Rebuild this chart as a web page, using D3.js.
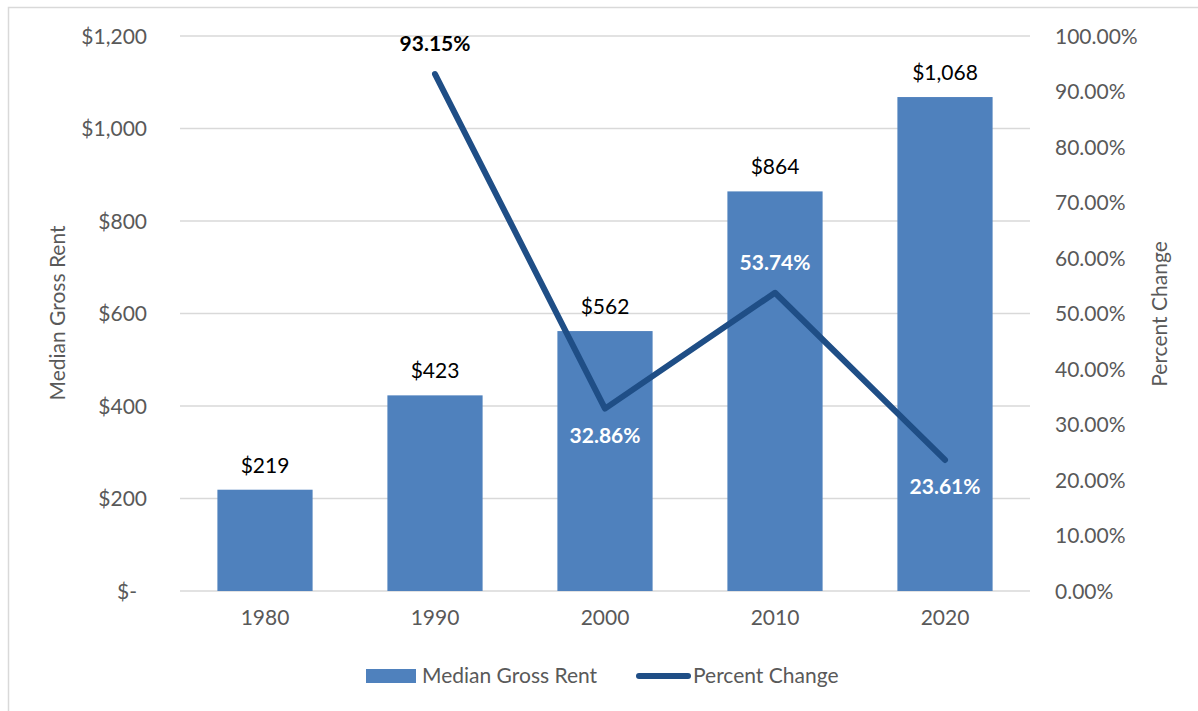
<!DOCTYPE html>
<html><head><meta charset="utf-8">
<script src="https://cdn.jsdelivr.net/npm/d3@7"></script>
<style>body{margin:0;background:#fff;} text{font-family:Lato,"Open Sans",sans-serif;}</style>
</head><body>
<svg id="chart" width="1198" height="711"></svg>
<script>
const years = ["1980","1990","2000","2010","2020"];
const rent = [219, 423, 562, 864, 1068];
const pctYears = ["1990","2000","2010","2020"];
const pctChange = [93.15, 32.86, 53.74, 23.61];
const pctLabelPos = ["above","below","above","below"];
const leftTicks = [0,200,400,600,800,1000,1200];
const rightTicks = [0,10,20,30,40,50,60,70,80,90,100];

const FS = 21;
const svg = d3.select("#chart");
svg.append("rect").attr("x",8.5).attr("y",7.5).attr("width",1200).attr("height",720)
  .attr("fill","#fff").attr("stroke","#d9d9d9").attr("stroke-width",1.5);

const L=180, R=1030, T=36, B=591;
const x = d3.scaleBand().domain(years).range([L,R]).paddingInner(0.44).paddingOuter(0.22);
const y = d3.scaleLinear().domain([0,1200]).range([B,T]);
const y2 = d3.scaleLinear().domain([0,100]).range([B,T]);
const grey="#595959";

// gridlines
svg.append("g").selectAll("line").data(leftTicks).join("line")
  .attr("x1",L).attr("x2",R).attr("y1",d=>y(d)).attr("y2",d=>y(d))
  .attr("stroke","#d9d9d9").attr("stroke-width",1.3);

// left axis
const fmtL = d => d===0 ? "$-" : "$"+d3.format(",")(d);
const gl = svg.append("g").attr("transform",`translate(${L-30},0)`)
  .call(d3.axisLeft(y).tickValues(leftTicks).tickFormat(fmtL).tickSize(0));
gl.select(".domain").remove();
gl.selectAll("text").attr("fill",grey).attr("font-size",FS).attr("dx",d=>d===0?-10:0).attr("dy","0.35em");

// right axis
const gr = svg.append("g").attr("transform",`translate(${R+22},0)`)
  .call(d3.axisRight(y2).tickValues(rightTicks).tickFormat(d=>d.toFixed(2)+"%").tickSize(0));
gr.select(".domain").remove();
gr.selectAll("text").attr("fill",grey).attr("font-size",FS).attr("dx",0).attr("dy","0.35em");

// bottom axis
const gb = svg.append("g").attr("transform",`translate(0,${B+14})`)
  .call(d3.axisBottom(x).tickSize(0));
gb.select(".domain").remove();
gb.selectAll("text").attr("fill",grey).attr("font-size",FS).attr("dy","0.8em");

// bars
svg.append("g").selectAll("rect").data(rent).join("rect")
  .attr("x",(d,i)=>x(years[i])).attr("width",x.bandwidth())
  .attr("y",d=>y(d)).attr("height",d=>B-y(d)).attr("fill","#4f81bd");
svg.append("g").selectAll("text").data(rent).join("text")
  .attr("x",(d,i)=>x(years[i])+x.bandwidth()/2).attr("y",d=>y(d)-17)
  .attr("text-anchor","middle").attr("font-size",FS).attr("fill","#000")
  .text(d=>"$"+d3.format(",")(d));

// line
const cx = yr => x(yr)+x.bandwidth()/2;
const line = d3.line().x((d,i)=>cx(pctYears[i])).y(d=>y2(d));
svg.append("path").datum(pctChange).attr("d",line).attr("fill","none")
  .attr("stroke","#1f4e86").attr("stroke-width",6).attr("stroke-linejoin","round").attr("stroke-linecap","round");
svg.append("g").selectAll("text").data(pctChange).join("text")
  .attr("x",(d,i)=>cx(pctYears[i]))
  .attr("y",(d,i)=>pctLabelPos[i]==="above" ? y2(d)-23 : y2(d)+34)
  .attr("text-anchor","middle").attr("font-size",FS).attr("font-weight","bold")
  .attr("fill",(d,i)=>i===0?"#000":"#fff")
  .text(d=>d.toFixed(2)+"%");

// axis titles
svg.append("text").attr("transform","translate(65,313) rotate(-90)").attr("text-anchor","middle")
  .attr("font-size",FS).attr("fill",grey).text("Median Gross Rent");
svg.append("text").attr("transform","translate(1167,314) rotate(-90)").attr("text-anchor","middle")
  .attr("font-size",FS).attr("fill",grey).text("Percent Change");

// legend
const lg = svg.append("g");
lg.append("rect").attr("x",366).attr("y",669).attr("width",50).attr("height",14).attr("fill","#4f81bd");
lg.append("text").attr("x",422).attr("y",676).attr("dy","0.35em").attr("font-size",FS).attr("fill",grey).text("Median Gross Rent");
lg.append("line").attr("x1",639).attr("x2",688).attr("y1",676).attr("y2",676)
  .attr("stroke","#1f4e86").attr("stroke-width",6).attr("stroke-linecap","round");
lg.append("text").attr("x",693).attr("y",676).attr("dy","0.35em").attr("font-size",FS).attr("fill",grey).text("Percent Change");
</script>
</body></html>
